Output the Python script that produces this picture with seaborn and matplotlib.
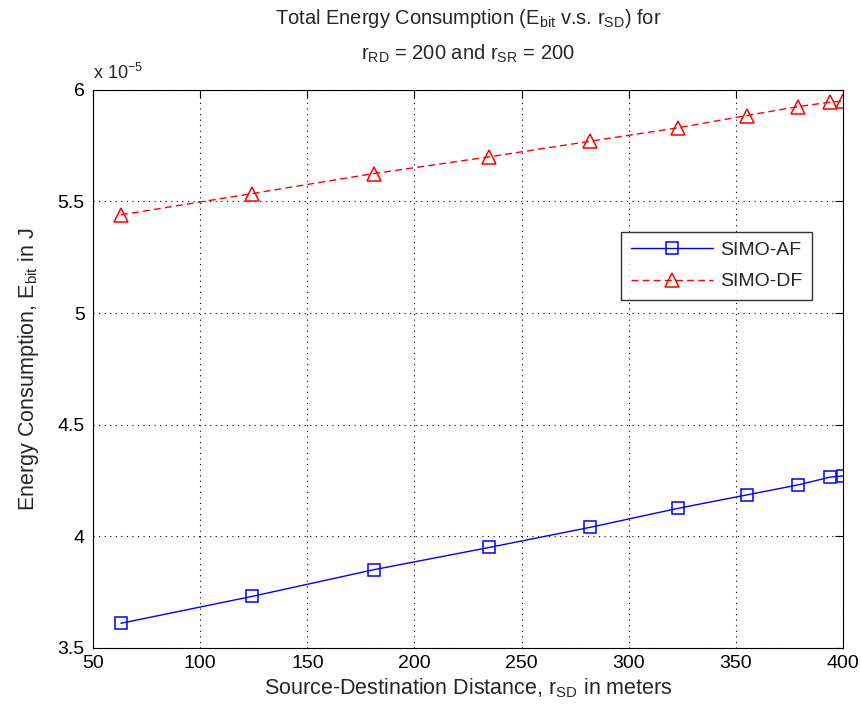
import matplotlib
matplotlib.use("Agg")
import matplotlib.pyplot as plt
import seaborn as sns
import pandas as pd

# Source-destination distance (m) and energy per bit (x 1e-5 J)
distance = [63, 124, 181, 235, 282, 323, 355, 379, 394, 400]
af_energy = [3.61, 3.73, 3.85, 3.95, 4.04, 4.125, 4.185, 4.23, 4.265, 4.27]
df_energy = [5.44, 5.535, 5.625, 5.70, 5.77, 5.83, 5.885, 5.925, 5.945, 5.95]

x_ticks = [50, 100, 150, 200, 250, 300, 350, 400]
y_ticks = [3.5, 4.0, 4.5, 5.0, 5.5, 6.0]

sns.set_style("white")
plt.rcParams["font.family"] = ["Liberation Sans", "DejaVu Sans"]
plt.rcParams["mathtext.default"] = "regular"

data = pd.DataFrame({"distance": distance, "af": af_energy, "df": df_energy})

fig = plt.figure(figsize=(8.62, 7.19), dpi=100)
ax = fig.add_axes([0.108, 0.099, 0.870, 0.776])

sns.lineplot(data=data, x="distance", y="af", ax=ax, color="#0000ff",
             marker="s", markersize=9, markerfacecolor="none",
             markeredgecolor="#0000ff", markeredgewidth=1.1, linewidth=1.0,
             label="SIMO-AF")
sns.lineplot(data=data, x="distance", y="df", ax=ax, color="#ff0000",
             marker="^", markersize=10, markerfacecolor="none",
             markeredgecolor="#ff0000", markeredgewidth=1.1, linewidth=1.0,
             label="SIMO-DF")
ax.lines[1].set_dashes((5, 3))

ax.set_xlim(50, 400)
ax.set_ylim(3.5, 6.0)
ax.set_xticks(x_ticks)
ax.set_yticks(y_ticks)
ax.set_yticklabels([f"{v:g}" for v in y_ticks])
ax.tick_params(direction="in", top=True, right=True, length=6, width=0.8,
               labelsize=14, colors="black")
ax.tick_params(axis="x", pad=5)
ax.tick_params(axis="y", pad=6)
ax.grid(True, linestyle=(0, (1, 4)), color="black", linewidth=0.8)
for s in ax.spines.values():
    s.set_color("black")
    s.set_linewidth(0.8)

ax.set_xlabel("Source-Destination Distance, r$_{SD}$ in meters", fontsize=15.5,
              labelpad=3)
ax.set_ylabel("Energy Consumption, E$_{bit}$ in J", fontsize=15.5, labelpad=12)
ax.set_title("Total Energy Consumption (E$_{bit}$ v.s. r$_{SD}$) for\n"
             "r$_{RD}$ = 200 and r$_{SR}$ = 200", fontsize=14.5, pad=22,
             linespacing=1.7)
ax.text(0.0, 1.012, "x 10$^{-5}$", transform=ax.transAxes, fontsize=13,
        ha="left", va="bottom")

leg = ax.legend(loc="upper right", bbox_to_anchor=(0.959, 0.7455), fontsize=14,
                frameon=True, fancybox=False, edgecolor="black",
                handlelength=4.2, handletextpad=0.4, borderpad=0.5,
                labelspacing=0.7, borderaxespad=0)
leg.get_frame().set_linewidth(1.0)

fig.savefig("out.png", dpi=100, facecolor="white")
